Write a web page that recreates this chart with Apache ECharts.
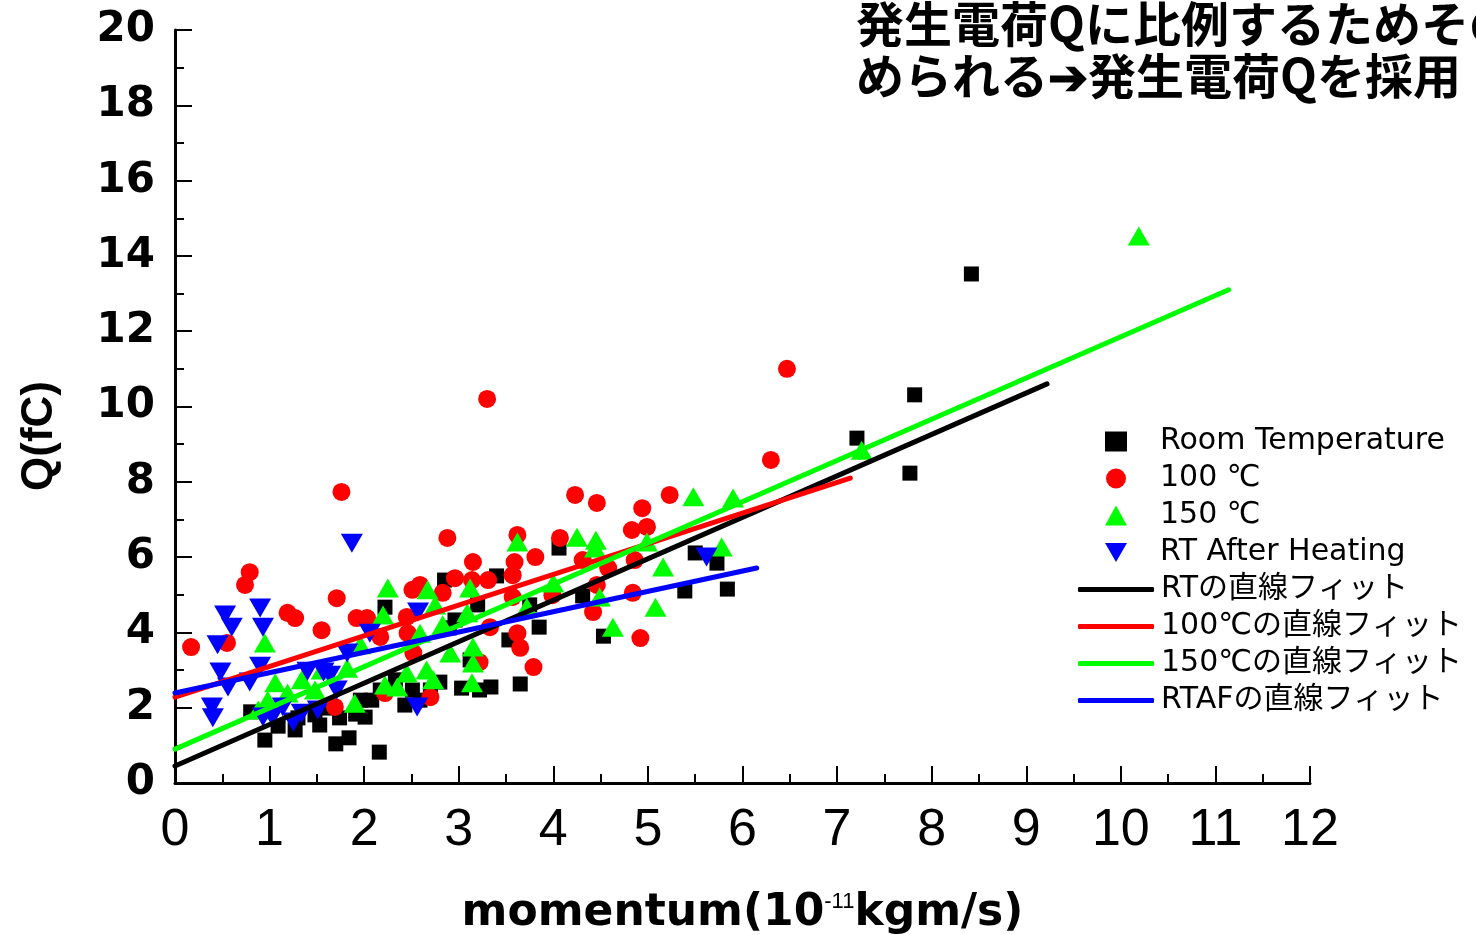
<!DOCTYPE html>
<html>
<head>
<meta charset="utf-8">
<script src="https://cdn.jsdelivr.net/npm/echarts@6/dist/echarts.min.js"></script>
<style>
  html, body { margin: 0; padding: 0; background: #fff; overflow: hidden; }
  #chart { width: 1476px; height: 935px; }
</style>
</head>
<body>
<div id="chart"></div>
<script>
// Measured charge Q (fC) against momentum (10^-11 kgm/s)
const roomTemp = [
  [0.80,1.89],[0.95,1.14],[1.09,1.51],[1.27,1.41],[1.30,1.73],[1.48,1.81],[1.53,1.54],
  [1.62,1.99],[1.70,1.04],[1.74,1.73],[1.84,1.20],[1.91,1.83],[2.01,1.75],[2.08,2.20],
  [2.16,0.82],[1.96,2.20],[2.17,2.47],[2.22,4.67],[2.33,2.74],[2.43,2.07],[2.51,2.47],
  [2.59,2.20],[2.70,2.47],[2.80,2.68],[2.85,5.39],[2.90,4.12],[2.96,4.33],[3.03,2.52],
  [3.12,3.27],[3.20,4.73],[3.22,2.47],[3.34,2.55],[3.40,5.50],[3.53,3.80],[3.65,2.63],
  [3.75,4.73],[3.85,4.14],[4.06,6.24],[4.31,4.97],[4.53,3.90],[5.39,5.10],[5.50,6.11],
  [5.73,5.84],[5.84,5.15],[7.21,9.16],[7.77,8.23],[7.82,10.31],[8.42,13.52]
];
const temp100 = [
  [0.17,3.61],[0.55,3.72],[0.74,5.26],[0.79,5.60],[1.19,4.52],[1.27,4.38],[1.55,4.06],
  [1.69,2.02],[1.71,4.91],[1.76,7.73],[1.92,4.38],[2.03,4.38],[2.17,3.88],[2.22,2.39],
  [2.45,4.41],[2.46,3.98],[2.52,3.45],[2.51,5.13],[2.59,5.26],[2.70,2.28],[2.83,5.05],
  [2.88,6.51],[2.96,5.44],[3.14,5.39],[3.15,5.87],[3.22,3.21],[3.30,10.20],[3.33,4.14],
  [3.31,5.39],[3.57,5.52],[3.57,4.94],[3.59,5.87],[3.62,6.59],[3.62,3.98],[3.65,3.59],
  [3.79,3.08],[3.81,6.00],[3.99,4.99],[4.07,6.51],[4.23,7.65],[4.31,5.92],[4.42,4.54],
  [4.46,7.44],[4.46,5.26],[4.58,5.71],[4.83,6.72],[4.84,5.05],[4.86,5.92],[4.92,3.85],
  [4.94,7.30],[4.99,6.80],[5.23,7.65],[6.30,8.58],[6.47,11.00]
];
const temp150 = [
  [0.88,1.94],[0.95,3.72],[0.98,2.20],[1.06,2.66],[1.19,2.39],[1.34,2.74],[1.48,2.47],
  [1.55,3.00],[1.82,3.05],[1.90,2.12],[1.96,3.67],[2.20,4.46],[2.22,2.60],[2.25,5.18],
  [2.35,2.55],[2.45,2.92],[2.59,3.98],[2.66,3.00],[2.67,5.13],[2.73,2.74],[2.75,4.73],
  [2.83,4.20],[2.91,3.45],[3.09,4.52],[3.12,5.18],[3.14,2.66],[3.15,3.61],[3.15,3.19],
  [3.72,4.67],[3.62,6.40],[4.00,5.31],[4.25,6.53],[4.44,6.24],[4.45,6.45],[4.49,4.94],
  [4.63,4.14],[4.99,6.40],[5.08,4.67],[5.16,5.74],[5.48,7.60],[5.78,6.27],[5.90,7.57],
  [7.26,8.84],[10.19,14.53]
];
const rtAfterHeating = [
  [0.39,2.02],[0.40,1.73],[0.45,3.67],[0.48,2.95],[0.53,4.46],[0.56,2.55],[0.60,4.14],
  [0.79,2.68],[0.90,4.65],[0.93,4.14],[0.90,3.10],[0.93,1.75],[1.03,1.75],[1.14,2.02],
  [1.25,1.62],[1.34,1.85],[1.40,2.97],[1.51,1.94],[1.57,2.95],[1.64,2.86],[1.71,2.47],
  [1.82,3.45],[1.87,6.37],[2.06,3.98],[2.56,2.02],[2.57,4.54],[5.62,6.00]
];

// Linear fits (end points of each fitted segment)
const fitRT   = [[0, 0.45], [9.22, 10.60]];
const fit100  = [[0, 2.28], [7.14, 8.10]];
const fit150  = [[0, 0.90], [11.14, 13.10]];
const fitRTAF = [[0, 2.39], [6.15, 5.71]];

const xTicks = [0,1,2,3,4,5,6,7,8,9,10,11,12];
const yTicks = [0,2,4,6,8,10,12,14,16,18,20];

const seriesNames = ['Room Temperature', '100 ℃', '150 ℃', 'RT After Heating'];
const fitNames = ['RTの直線フィット', '100℃の直線フィット', '150℃の直線フィット', 'RTAFの直線フィット'];
const noteLines = ['発生電荷Qに比例するためその', 'められる➔発生電荷Qを採用'];

const JP = '"Noto Sans CJK JP", sans-serif';
const LEG = '"DejaVu Sans", "Noto Sans CJK JP", sans-serif';
const tickFont = '"Liberation Sans", Arial, sans-serif';
const narrowFont = '"Liberation Sans Narrow", "Liberation Sans", sans-serif';
const wideBold = '"DejaVu Sans", sans-serif';
const downTri = 'path://M0,0 L20,0 L10,17.3 Z';

const chart = echarts.init(document.getElementById('chart'), null, { renderer: 'canvas' });

function fitSeries(name, data, color, width) {
  return {
    name, type: 'line', data, symbol: 'none', z: 5,
    lineStyle: { color, width, cap: 'round' },
    itemStyle: { color }
  };
}

chart.setOption({
  animation: false,
  backgroundColor: '#ffffff',
  grid: { left: 175, right: 166, top: 30, bottom: 152, containLabel: false, outerBoundsMode: 'none' },
  xAxis: {
    type: 'value', min: xTicks[0], max: xTicks[xTicks.length - 1], interval: 1,
    splitLine: { show: false },
    axisLine: { lineStyle: { color: '#000', width: 3 } },
    axisTick: { inside: true, length: 17, lineStyle: { color: '#000', width: 2 } },
    minorTick: { show: true, splitNumber: 2, length: 9, lineStyle: { color: '#000', width: 2 } },
    axisLabel: { color: '#000', fontSize: 52, fontFamily: narrowFont, margin: 22 },
    name: '{a|momentum(10}{s|-11}{a|kgm/s)}',
    nameLocation: 'middle', nameGap: 108,
    nameTextStyle: {
      rich: {
        a: { fontSize: 44, fontWeight: 'bold', color: '#000', fontFamily: wideBold },
        s: { fontSize: 22, color: '#000', fontFamily: tickFont, verticalAlign: 'top', padding: [0, 0, 24, 0] }
      }
    }
  },
  yAxis: {
    type: 'value', min: yTicks[0], max: yTicks[yTicks.length - 1], interval: 2,
    splitLine: { show: false },
    axisLine: { show: true, lineStyle: { color: '#000', width: 3 } },
    axisTick: { show: true, inside: true, length: 17, lineStyle: { color: '#000', width: 2 } },
    minorTick: { show: true, splitNumber: 2, length: 9, lineStyle: { color: '#000', width: 2 } },
    axisLabel: { color: '#000', fontSize: 42, fontWeight: 'bold', fontFamily: wideBold, margin: 20 }
  },
  legend: [
    {
      orient: 'vertical', left: 1100, top: 418, itemGap: 0,
      itemWidth: 22, itemHeight: 20,
      data: seriesNames,
      textStyle: { fontSize: 30, fontFamily: LEG, color: '#000', lineHeight: 37, padding: [0, 0, 0, 28] }
    },
    {
      orient: 'vertical', left: 1073, top: 566, itemGap: 0,
      itemWidth: 76, itemHeight: 5,
      data: fitNames.map(n => ({ name: n, icon: 'roundRect' })),
      textStyle: { fontSize: 30, fontFamily: LEG, color: '#000', lineHeight: 37, padding: [0, 0, 0, 2] }
    }
  ],
  graphic: [
    {
      type: 'text', x: 40, y: 436, rotation: Math.PI / 2, z: 10,
      style: { text: 'Q(fC)', fill: '#000', font: 'bold 44px ' + tickFont, align: 'center', verticalAlign: 'middle' }
    }
  ].concat(noteLines.map((t, i) => ({
    type: 'text', left: 856, top: 0 + i * 52, z: 10,
    style: { text: t, fill: '#000', font: 'bold 48px ' + JP }
  }))),
  series: [
    { name: seriesNames[0], type: 'scatter', data: roomTemp, symbol: 'rect', symbolSize: 15,
      itemStyle: { color: '#000000', opacity: 1 }, z: 2 },
    { name: seriesNames[1], type: 'scatter', data: temp100, symbol: 'circle', symbolSize: 18,
      itemStyle: { color: '#ff0000', opacity: 1 }, z: 2 },
    { name: seriesNames[2], type: 'scatter', data: temp150, symbol: 'triangle', symbolSize: [22, 19],
      itemStyle: { color: '#00ff00', opacity: 1 }, z: 2 },
    { name: seriesNames[3], type: 'scatter', data: rtAfterHeating, symbol: downTri, symbolSize: [22, 19],
      itemStyle: { color: '#0000ff', opacity: 1 }, z: 2 },
    fitSeries(fitNames[0], fitRT, '#000000', 5),
    fitSeries(fitNames[1], fit100, '#ff0000', 5),
    fitSeries(fitNames[2], fit150, '#00ff00', 5),
    fitSeries(fitNames[3], fitRTAF, '#0000ff', 5)
  ]
});
</script>
</body>
</html>
